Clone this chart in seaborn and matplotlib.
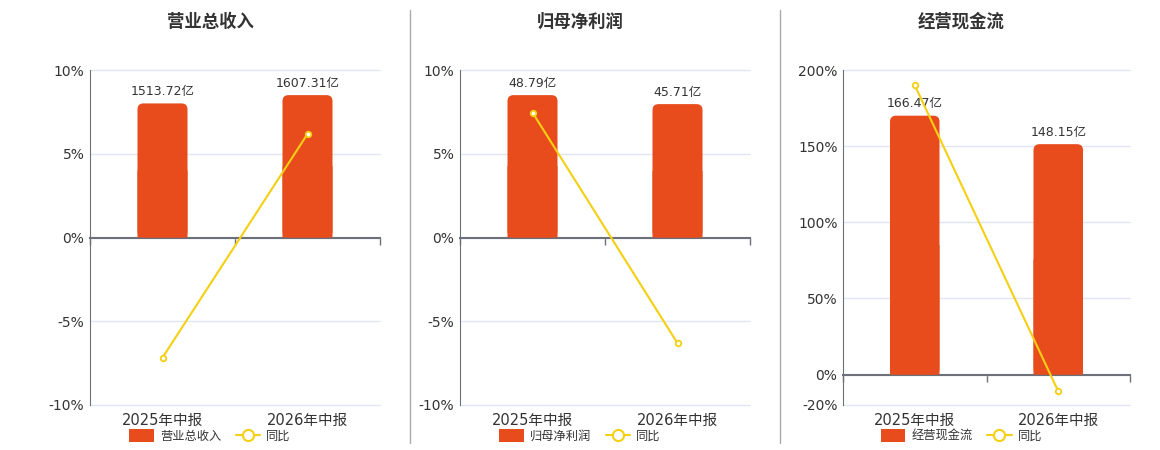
import matplotlib
matplotlib.use('Agg')
import matplotlib.pyplot as plt
from matplotlib.patches import FancyBboxPatch, Patch
from matplotlib.lines import Line2D
import seaborn as sns
import pandas as pd

categories = ['2025年中报', '2026年中报']
titles = ['营业总收入', '归母净利润', '经营现金流']
bar_values = [
    [1513.72, 1607.31],
    [48.79, 45.71],
    [166.47, 148.15],
]
yoy_values = [
    [-7.17, 6.18],
    [7.46, -6.31],
    [190.0, -11.0],
]
y_ranges = [(-10, 10), (-10, 10), (-20, 200)]
y_ticks = [[-10, -5, 0, 5, 10], [-10, -5, 0, 5, 10], [-20, 0, 50, 100, 150, 200]]

BAR = '#e84c1d'
LINE = '#f5cf12'
TEXT = '#333333'
AXIS = '#6e7079'
GRID = '#e0e6f1'

sns.set_style('white')
plt.rcParams['font.family'] = ['DejaVu Sans', 'Noto Sans CJK SC']

fig = plt.figure(figsize=(11.6, 4.5), dpi=100)
lefts = [90, 460, 843]
widths = [290, 290, 287]

for i in range(3):
    ax = fig.add_axes([lefts[i] / 1160, 45 / 450, widths[i] / 1160, 335 / 450])
    lo, hi = y_ranges[i]
    ax.set_ylim(lo, hi)
    ax.set_yticks(y_ticks[i])
    ax.set_yticklabels([f'{t}%' for t in y_ticks[i]])
    ax.tick_params(axis='y', length=0, labelsize=10, labelcolor=TEXT, pad=4)
    ax.grid(axis='y', color=GRID, linewidth=1)
    ax.grid(axis='x', visible=False)
    for g in ax.get_ygridlines():
        g.set_clip_on(False)
    for s in ['top', 'right']:
        ax.spines[s].set_visible(False)
    ax.spines['left'].set_color(AXIS)
    ax.spines['bottom'].set_position(('data', 0))
    ax.spines['bottom'].set_color(AXIS)
    ax.spines['bottom'].set_linewidth(1.5)
    ax.set_zorder(0)

    df = pd.DataFrame({'period': categories, 'value': bar_values[i], 'yoy': yoy_values[i]})

    # bars on their own hidden scale, zero aligned with the percent axis
    axb = ax.twinx()
    bmax = max(bar_values[i]) / 0.85
    axb.set_ylim(bmax * lo / hi, bmax)
    sns.barplot(data=df, x='period', y='value', ax=axb, color=BAR, width=0.345,
                saturation=1, edgecolor='none')
    axb.set_xlim(-0.5, 1.5)
    axb.set_yticks([])
    axb.set_ylabel('')
    for s in axb.spines.values():
        s.set_visible(False)
    axb.bar_label(axb.containers[0], labels=[f'{v:.2f}亿' for v in bar_values[i]],
                  padding=4, fontsize=9, color=TEXT)
    # round the top corners
    px_x = 2 / widths[i]
    px_y = (bmax - bmax * lo / hi) / 335
    for p in list(axb.patches):
        x0, w, h = p.get_x(), p.get_width(), p.get_height()
        rb = FancyBboxPatch((x0, 0), w, h, boxstyle=f'round,pad=0,rounding_size={6 * px_x}',
                            mutation_aspect=px_y / px_x, facecolor=BAR, edgecolor='none',
                            linewidth=0)
        axb.add_patch(rb)
        p.set_snap(False)
        p.set_linewidth(0)
        p.set_height(h * 0.5)

    # yoy line
    axl = ax.twinx()
    axl.set_ylim(lo, hi)
    sns.pointplot(data=df, x='period', y='yoy', ax=axl, color=LINE, markers='o',
                  markersize=4, markerfacecolor='white', markeredgewidth=1.3, linewidth=1.5)
    axl.set_xlim(-0.5, 1.5)
    axl.set_yticks([])
    axl.set_ylabel('')
    for s in axl.spines.values():
        s.set_visible(False)

    ax.set_xlim(-0.5, 1.5)
    ax.set_xticks([0, 1])
    ax.set_xticklabels(categories)
    ax.set_xticks([-0.5, 0.5, 1.5], minor=True)
    below = (0 - lo) / (hi - lo) * 335 * 0.72
    ax.tick_params(axis='x', which='major', bottom=True, length=0, pad=below + 6,
                   labelsize=10.5, labelcolor=TEXT)
    ax.tick_params(axis='x', which='minor', bottom=True, length=5, width=1, color=AXIS,
                   direction='out')
    axb.tick_params(axis='x', length=0, labelbottom=False)
    axl.tick_params(axis='x', length=0, labelbottom=False)
    ax.set_xlabel('')
    ax.set_ylabel('')

    cx = (lefts[i] + widths[i] / 2 - 25) / 1160
    fig.text(cx, 1 - 22 / 450, titles[i], ha='center', va='center', fontsize=12.5,
             fontweight='bold', color=TEXT, family=['Noto Sans CJK SC', 'DejaVu Sans'])
    handles = [Patch(facecolor=BAR, edgecolor='none'),
               Line2D([], [], color=LINE, marker='o', markersize=8, markerfacecolor='white',
                      markeredgewidth=1.5, linewidth=1.5)]
    leg = fig.legend(handles, [titles[i], '同比'], loc='center', ncol=2, frameon=False,
                     bbox_to_anchor=(cx, 1 - 436 / 450), fontsize=8.8, handlelength=2.0,
                     handleheight=1.3, columnspacing=1.2, handletextpad=0.5)
    for t in leg.get_texts():
        t.set_color(TEXT)

for x in [410, 780]:
    fig.add_artist(Line2D([x / 1160, x / 1160], [1 - 10 / 450, 1 - 443 / 450],
                          color='#aaaaaa', linewidth=1))

fig.savefig('out.png', dpi=100)
